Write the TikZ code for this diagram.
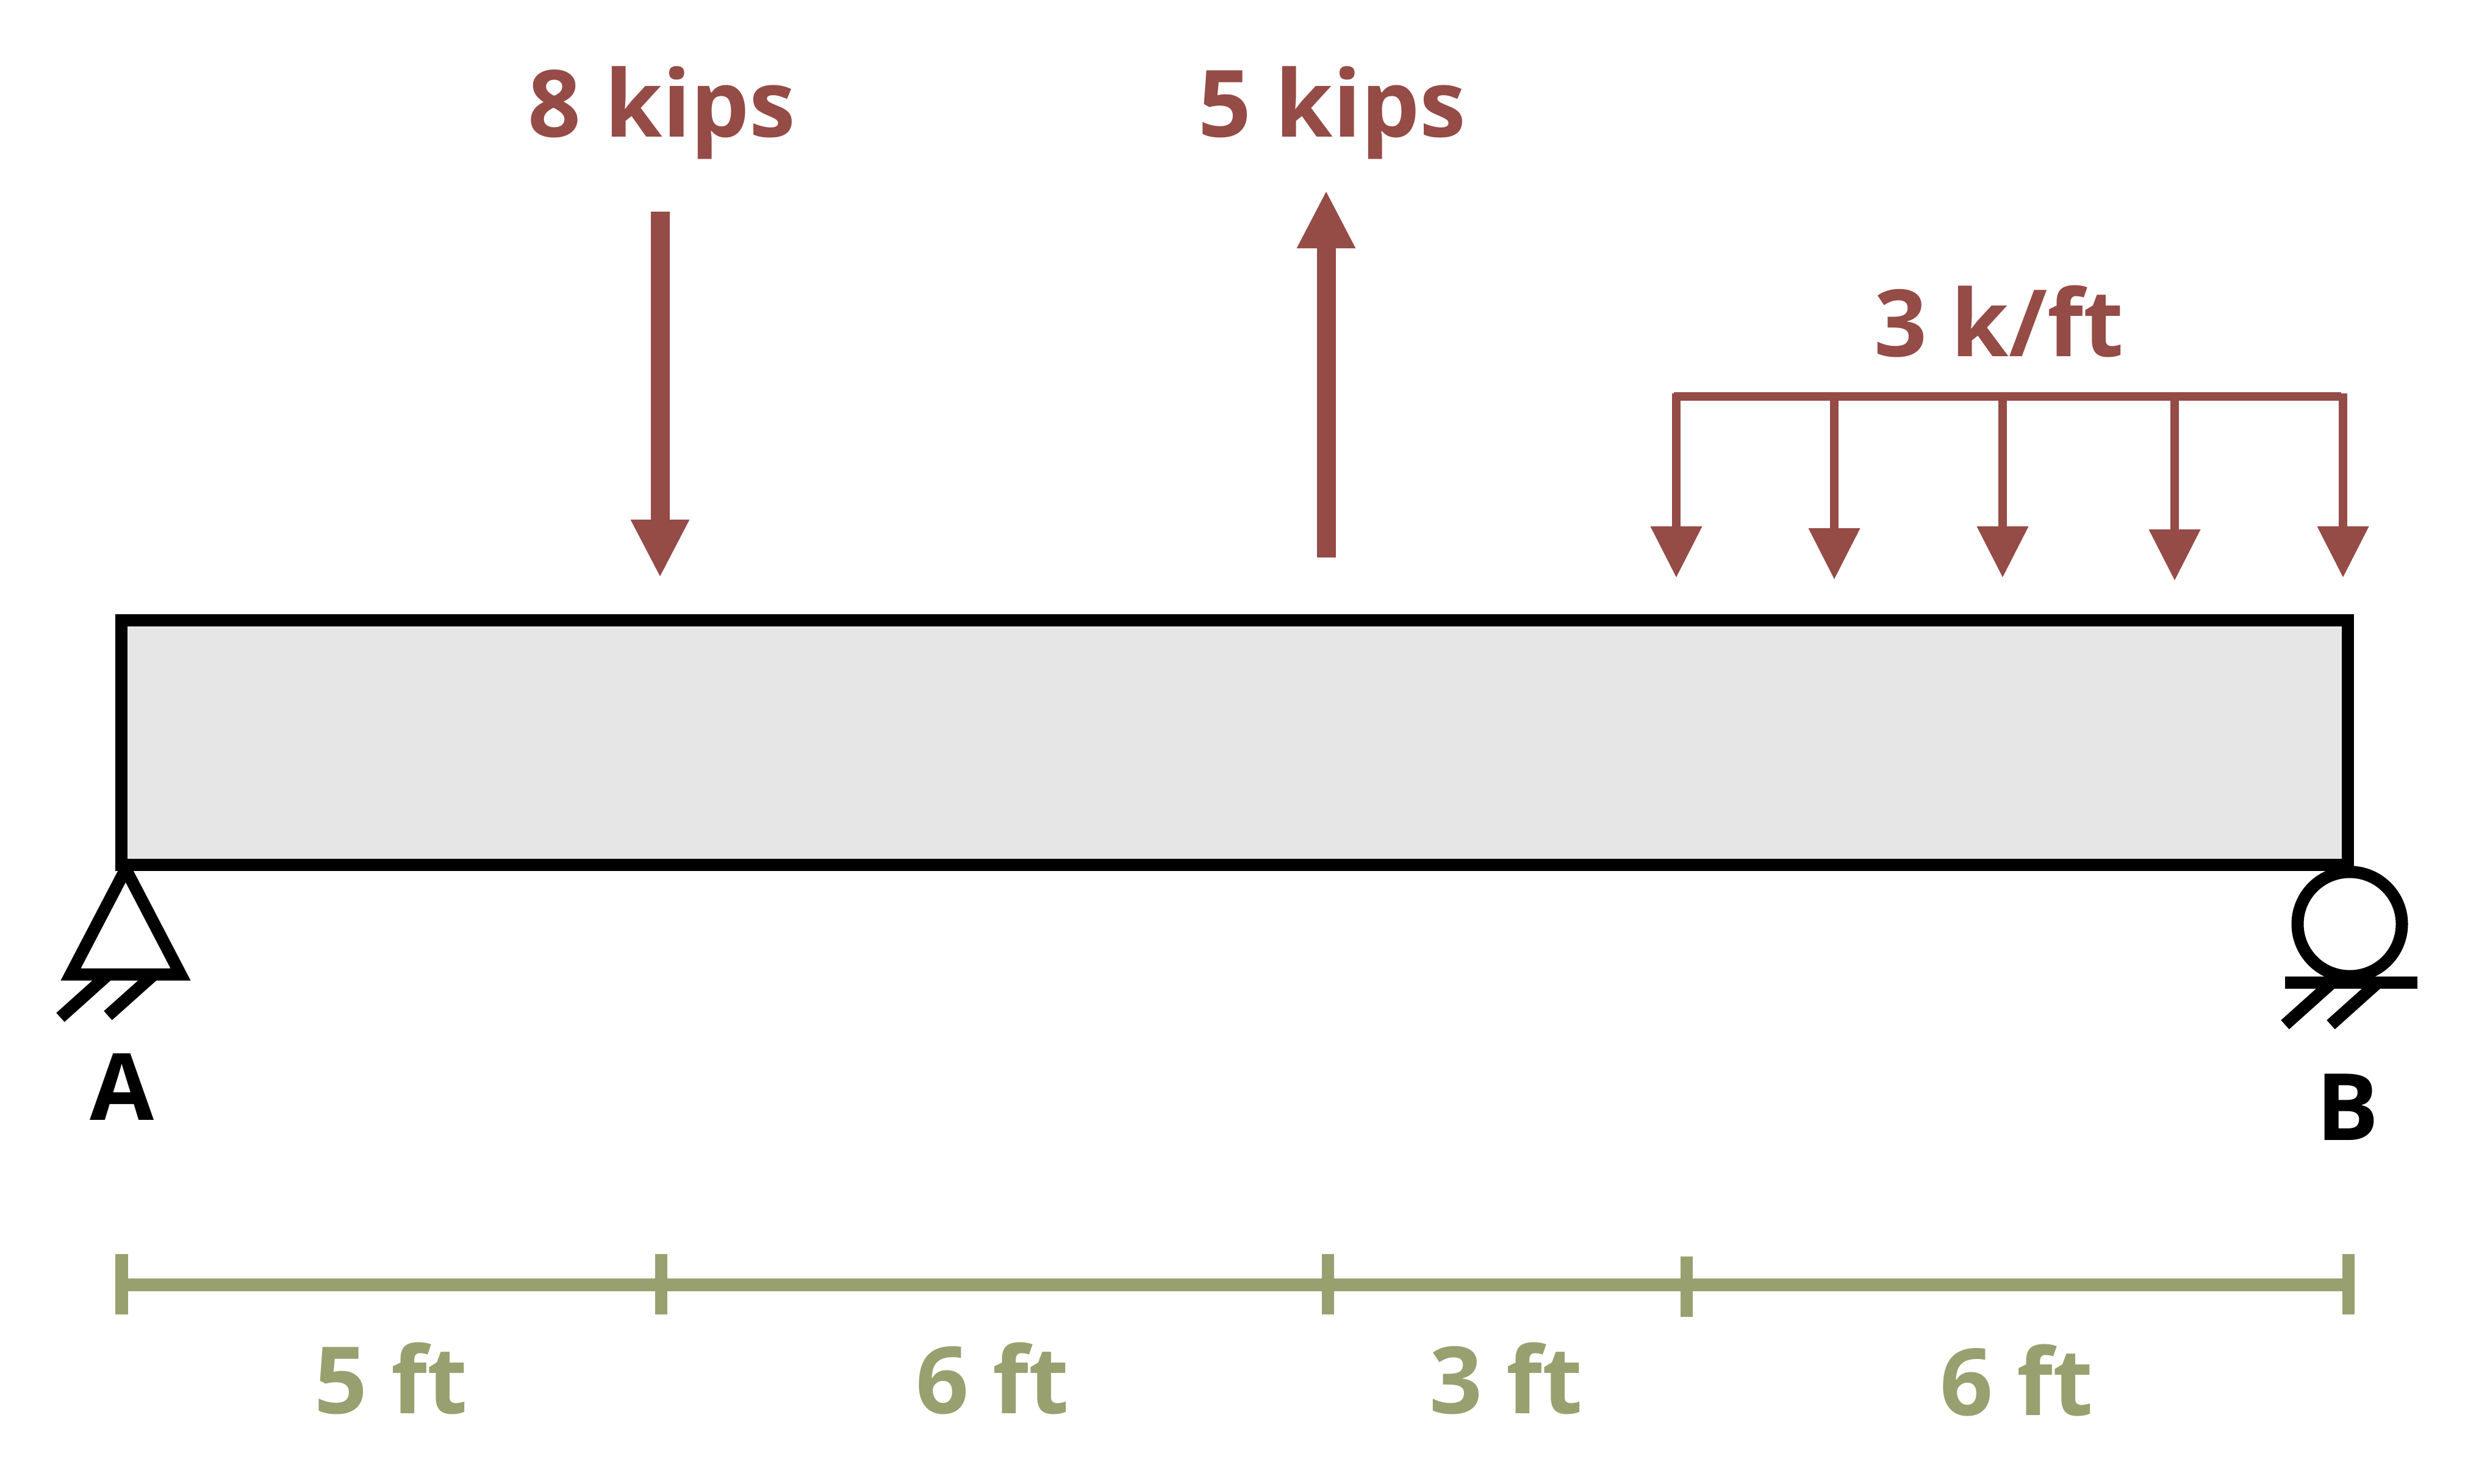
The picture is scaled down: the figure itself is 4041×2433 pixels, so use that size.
\documentclass[tikz,border=0pt]{standalone}
\usepackage{fontspec}
\setmainfont{Open Sans}
\usetikzlibrary{arrows.meta}
\definecolor{loadred}{HTML}{954B46}
\definecolor{dimgreen}{HTML}{99A06F}
\definecolor{beamgray}{HTML}{E6E6E6}
\tikzset{
  thick line/.style={line width=2mm,miter limit=10},
  load text/.style={text=loadred,font=\fontsize{43.3pt}{50pt}\selectfont\bfseries,anchor=base,inner sep=0pt},
  dim text/.style={text=dimgreen,font=\fontsize{43.3pt}{50pt}\selectfont\bfseries,anchor=base,inner sep=0pt},
  point load/.style={draw=loadred,line width=3.1mm,-{Triangle[length=9.5mm,width=8.9mm]}},
  dist load/.style={draw=loadred,line width=1.4mm,-{Triangle[length=8.4mm,width=8.1mm]}}
}
\begin{document}
\begin{tikzpicture}[x=0.01cm,y=-0.01cm]
  \useasboundingbox (0,0) rectangle (4041,2433);
  % beam
  \draw[thick line,fill=beamgray] (199,1017) rectangle (3848.5,1417.5);
  % support A
  \draw[thick line,fill=white] (206,1425)--(116,1597.5)--(296,1597.5)--cycle;
  \draw[thick line] (177,1598)--(99,1668);
  \draw[thick line] (252,1598)--(177,1665);
  \node (labelA) [load text,text=black] at (200,1836) {A};
  % support B
  \draw[thick line,fill=white] (3852,1515) circle (85.5);
  \draw[thick line] (3746,1611)--(3963,1611);
  \draw[thick line] (3823,1611)--(3746,1680);
  \draw[thick line] (3898,1611)--(3821,1680);
  \node (labelB) [load text,text=black] at (3849,1869) {B};
  % point loads
  \draw[point load] (1082,347)--(1082,947);
  \draw[point load] (2174,914)--(2174,312);
  \node (loadeight) [load text] at (1085,224) {8 kips};
  \node (loadfive) [load text] at (2184,224) {5 kips};
  % distributed load
  \draw[draw=loadred,line width=1.4mm] (2744,650)--(3838,650);
  \foreach \x/\y in {2748/947,3007/950,3283/947,3565/952,3841/947}
    \draw[dist load] (\x,645)--(\x,\y);
  \node (loaddist) [load text] at (3277,584) {3 k/ft};
  % dimensions
  \draw[draw=dimgreen,line width=2.1mm] (199.5,2106.5)--(3850,2106.5);
  \foreach \x/\y in {199.5/2056,1084/2056,2177/2056,2765/2060,3850/2056}
    \draw[draw=dimgreen,line width=2mm] (\x,\y)--++(0,99);
  \node (dimone) [dim text] at (641,2317) {5 ft};
  \node (dimtwo) [dim text] at (1627,2317) {6 ft};
  \node (dimthree) [dim text] at (2469,2317) {3 ft};
  \node (dimfour) [dim text] at (3306,2320) {6 ft};
\end{tikzpicture}
\end{document}
